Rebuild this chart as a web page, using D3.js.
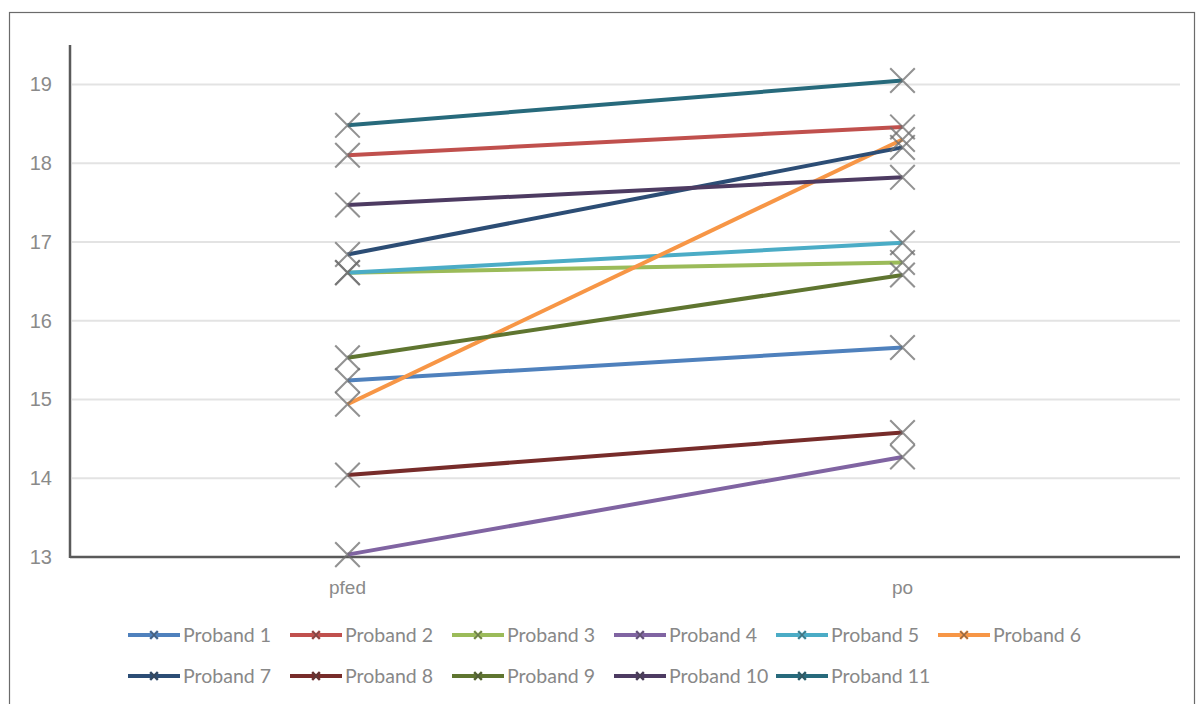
<!DOCTYPE html>
<html><head><meta charset="utf-8">
<script src="https://cdn.jsdelivr.net/npm/d3@7/dist/d3.min.js"></script>
<style>
html,body{margin:0;padding:0;background:#fff;}
svg{display:block;font-family:Lato,"Open Sans",sans-serif;}
</style></head>
<body>
<svg id="chart" width="1198" height="704"></svg>
<script>
const categories = ["pfed", "po"];
const seriesNames = ["Proband 1","Proband 2","Proband 3","Proband 4","Proband 5","Proband 6","Proband 7","Proband 8","Proband 9","Proband 10","Proband 11"];
const valuesBefore = [15.24, 18.10, 16.61, 13.03, 16.61, 14.94, 16.84, 14.04, 15.53, 17.47, 18.48];
const valuesAfter  = [15.66, 18.46, 16.74, 14.27, 16.99, 18.30, 18.20, 14.58, 16.58, 17.82, 19.05];
const colors = ["#4F81BD","#C0504D","#9BBB59","#8064A2","#4BACC6","#F79646","#2C4D75","#772C2A","#5F7530","#4D3B62","#276A7C"];
const yTicks = [13,14,15,16,17,18,19];

(function(){
const svg = d3.select("#chart");
// outer frame
svg.append("rect").attr("x",9.5).attr("y",12.5).attr("width",1185).attr("height",700)
  .attr("fill","#fff").attr("stroke","#6b6b6b").attr("stroke-width",1.2);

const pl = 70, pr = 1180, pt = 45, pb = 557;
const x = d3.scaleBand().domain(categories).range([pl,pr]);
const y = d3.scaleLinear().domain([13,19.5]).range([pb,pt]);

// gridlines
svg.append("g").selectAll("line").data(yTicks.slice(1)).join("line")
  .attr("x1",pl+2).attr("x2",pr).attr("y1",d=>y(d)).attr("y2",d=>y(d))
  .attr("stroke","#e3e3e3").attr("stroke-width",2);

// y axis
const yAxis = svg.append("g").attr("transform",`translate(${pl},0)`)
  .call(d3.axisLeft(y).tickValues(yTicks).tickSize(0).tickPadding(18).tickFormat(d3.format("d")));
yAxis.select(".domain").remove();
yAxis.selectAll("text").attr("fill","#8a8a8a").style("font-size","20px");
svg.append("line").attr("x1",pl).attr("x2",pl).attr("y1",pt).attr("y2",pb+1)
  .attr("stroke","#5a5a5a").attr("stroke-width",2.5);

// x axis
const xAxis = svg.append("g").attr("transform",`translate(0,${pb})`)
  .call(d3.axisBottom(x).tickSize(0).tickPadding(24));
xAxis.select(".domain").remove();
xAxis.selectAll("text").attr("fill","#8a8a8a").style("font-size","19px");
svg.append("line").attr("x1",pl).attr("x2",pr).attr("y1",pb).attr("y2",pb)
  .attr("stroke","#5a5a5a").attr("stroke-width",2.5);

const cx = c => x(c) + x.bandwidth()/2;
const data = seriesNames.map((n,i)=>({name:n,color:colors[i],pts:[{c:categories[0],v:valuesBefore[i]},{c:categories[1],v:valuesAfter[i]}]}));
const line = d3.line().x(d=>cx(d.c)).y(d=>y(d.v));

const g = svg.append("g");
data.forEach(s=>{
  g.append("path").attr("d",line(s.pts)).attr("fill","none").attr("stroke",s.color).attr("stroke-width",4);
});
const xm = d3.symbol().type(d3.symbolTimes).size(300);
data.forEach(s=>{
  s.pts.forEach(p=>{
    g.append("path").attr("d",xm()).attr("transform",`translate(${cx(p.c)},${y(p.v)}) scale(1.15)`)
      .attr("fill","none").attr("stroke","#6e6e6e").attr("stroke-opacity",0.75).attr("stroke-width",1.8);
  });
});

// legend
const legX0 = 128, legDx = 162, legY = [635, 676];
const small = d3.symbol().type(d3.symbolTimes).size(40);
data.forEach((s,i)=>{
  const row = i<6?0:1, col = i<6?i:i-6;
  const lx = legX0 + col*legDx, ly = legY[row];
  const lg = svg.append("g").attr("transform",`translate(${lx},${ly})`);
  lg.append("line").attr("x1",0).attr("x2",52).attr("y1",0).attr("y2",0).attr("stroke",s.color).attr("stroke-width",4);
  lg.append("path").attr("d",small()).attr("transform","translate(26,0)").attr("fill","none").attr("stroke",s.color).attr("stroke-width",2.5);
  lg.append("path").attr("d",small()).attr("transform","translate(26,0)").attr("fill","none").attr("stroke","#444").attr("stroke-opacity",0.55).attr("stroke-width",1.4);
  lg.append("text").attr("x",55).attr("y",0).attr("dy","0.35em").attr("fill","#888").style("font-size","19.5px").text(s.name);
});
})();
</script>
</body></html>
